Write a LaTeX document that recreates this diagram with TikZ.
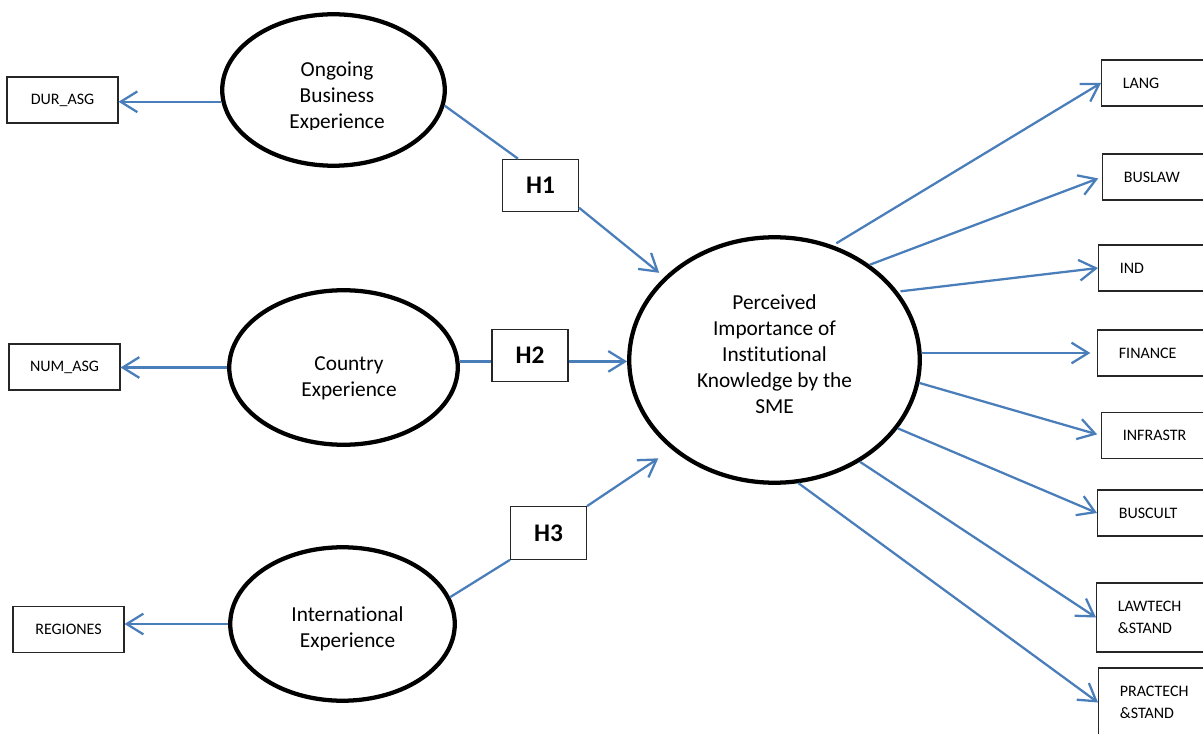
\documentclass[tikz,border=0pt]{standalone}
\usepackage{fontspec}
\setmainfont{Carlito}[Ligatures=NoCommon]
\usetikzlibrary{arrows.meta,shapes.geometric}
\definecolor{lineblue}{RGB}{74,126,187}
\begin{document}
\begin{tikzpicture}[x=0.75pt,y=-0.75pt,
  ell/.style={ellipse, draw=black, line width=3.2pt, inner sep=0pt},
  etext/.style={align=center, inner sep=0pt, font=\fontsize{16}{19.5}\selectfont},
  lbox/.style={rectangle, draw=black!85, line width=0.8pt, minimum width=83.25pt,
    minimum height=34.5pt, inner sep=0pt, font=\fontsize{12}{16.5}\selectfont},
  rbox/.style={rectangle, draw=black!85, line width=0.8pt, minimum width=84pt,
    text width=52pt, inner xsep=16pt, inner ysep=0pt, align=left,
    minimum height=34.5pt, font=\fontsize{12}{16.5}\selectfont},
  hbox/.style={rectangle, draw=black!85, line width=0.8pt, minimum width=57pt,
    minimum height=39.5pt, inner sep=0pt, font=\bfseries\fontsize{19}{22}\selectfont},
  ln/.style={draw=lineblue, line width=1.7pt},
  arr/.style={ln, -{Straight Barb[length=12.5pt,width=15.5pt]}}
]
\useasboundingbox (0,0) rectangle (1203,734);
\fill[white] (0,0) rectangle (1203,734);
\clip (0,0) rectangle (1203,734);

% ellipses
\node[ell, minimum width=166.9pt, minimum height=113.6pt] (e1) at (333.5,90) {};
\node[ell, minimum width=171.4pt, minimum height=115.9pt] (e2) at (343.5,367.5) {};
\node[ell, minimum width=168.4pt, minimum height=115.1pt] (e3) at (342.5,624) {};
\node[ell, minimum width=217.9pt, minimum height=184.1pt] (big) at (774.5,360) {};

\begin{scope}
  \clip (230,20) rectangle (440,129.5);
  \node[etext] (t1) at (337,97) {Ongoing\\Business\\Experience};
\end{scope}
\node[etext] (t2) at (349,378) {Country\\Experience};
\node[etext] (t3) at (347.5,628.5) {International\\Experience};
\node[etext] (tb) at (774.5,354) {Perceived\\Importance of\\Institutional\\Knowledge by the\\SME};

% left boxes
\node[lbox] (dur) at (62.5,100) {DUR\_ASG};
\node[lbox] (num) at (64.5,367) {NUM\_ASG};
\node[lbox] (reg) at (68.5,629.5) {REGIONES};

% hypothesis boxes
\node[hbox] (h1) at (540.5,185.5) {H1};
\node[hbox] (h2) at (530,355.5) {H2};
\node[hbox] (h3) at (548.5,533) {H3};

% right boxes
\node[rbox, anchor=west] (lang) at (1101,83) {LANG};
\node[rbox, anchor=west] (buslaw) at (1102,177) {BUSLAW};
\node[rbox, anchor=west] (ind) at (1098,268) {IND};
\node[rbox, anchor=west] (finance) at (1097,353) {FINANCE};
\node[rbox, anchor=west] (infrastr) at (1101,435.5) {INFRASTR};
\node[rbox, anchor=west] (buscult) at (1097,513) {BUSCULT};
\node[rbox, anchor=west, minimum height=51.75pt] (lawtech) at (1096,617.5) {LAWTECH\\\&STAND};
\node[rbox, anchor=west, minimum height=51.75pt] (practech) at (1098,702.5) {PRACTECH\\\&STAND};

% left arrows
\draw[arr] (e1.186) -- (e1.186 -| dur.east);
\draw[arr] (e2.west) -- (e2.west -| num.east);
\draw[arr] (e3.west) -- (e3.west -| reg.east);

% hypothesis connectors
\draw[ln] (e1.-8) -- (h1.130);
\draw[arr, shorten >=5pt] (h1.-30) -- (big.143);
\draw[ln] (e2.3) -- (e2.3 -| h2.west);
\draw[arr] (e2.3 -| h2.east) -- (e2.3 -| big.west);
\draw[ln] (e3.14) -- (h3.south west);
\draw[arr, shorten >=12pt] (h3.north east) -- (big.221);

% right arrows
\draw[arr, shorten <=3pt] (big.63) -- (lang.west);
\draw[arr, shorten >=3pt] (big.45) -- (buslaw.west);
\draw[arr, shorten <=2pt] (big.29) -- (ind.west);
\draw[arr, shorten >=5pt] (finance.west -| big.east) -- (finance.west);
\draw[arr, shorten >=3pt] (big.-9) -- (infrastr.west);
\draw[arr] (big.-29) -- (buscult.west);
\draw[arr] (big.-50) -- (lawtech.west);
\draw[arr] (big.-79) -- (practech.west);
\end{tikzpicture}
\end{document}
